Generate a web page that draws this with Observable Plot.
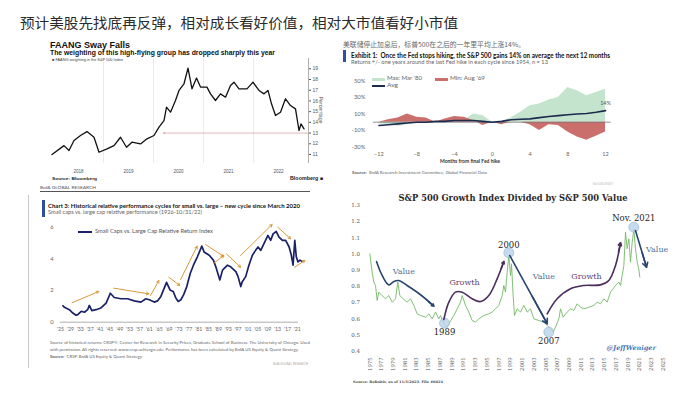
<!DOCTYPE html>
<html><head><meta charset="utf-8">
<script src="https://cdn.jsdelivr.net/npm/d3@7"></script>
<script src="https://cdn.jsdelivr.net/npm/@observablehq/plot@0.6"></script>
<style>
html,body{margin:0;padding:0;background:#fff;}
#root{position:relative;width:700px;height:394px;overflow:hidden;font-family:"Liberation Sans",Arial,sans-serif;}
.t{position:absolute;white-space:nowrap;line-height:1;transform-origin:0 0;}
.b{position:absolute;}
svg{position:absolute;}
</style></head><body><div id="root"></div>
<script>
// ================= DATA =================
// Panel 1 – FAANG weighting in the S&P 500 (%)
const faangYear = [2017.97,2018.21,2018.31,2018.41,2018.54,2018.67,2018.81,2018.91,2019.07,2019.21,2019.34,2019.46,2019.57,2019.74,2019.87,2020.01,2020.11,2020.21,2020.26,2020.34,2020.44,2020.51,2020.61,2020.69,2020.77,2020.86,2020.94,2021.07,2021.14,2021.24,2021.34,2021.44,2021.54,2021.61,2021.71,2021.87,2021.99,2022.11,2022.21,2022.29,2022.36,2022.44,2022.54,2022.64,2022.74,2022.84,2022.91,2022.95,2023.01];
const faangPct  = [11.0,11.83,11.37,12.30,12.77,13.14,12.61,11.21,11.52,11.83,12.61,11.68,12.15,11.99,12.46,12.77,13.55,14.17,15.42,14.95,16.04,16.98,17.60,19.06,17.13,18.13,17.29,17.29,16.66,16.04,16.66,16.35,17.44,17.75,17.13,17.13,17.75,16.98,16.66,16.98,15.73,14.64,14.95,16.20,15.57,15.26,13.24,13.86,13.39];
const faangTicks = [11,12,13,14,15,16,17,18,19];
const faangYearLabels = [2018,2019,2020,2021,2022];
const faangGridYears = [2019,2020,2021,2022];
const faangFloor = [{from: 2023.1, to: 2020.2, level: 13}];

// Panel 2 – S&P 500 returns around the last Fed hike (%)
const fedMonths = [-12,-11,-10,-9,-8,-7,-6,-5,-4,-3,-2,-1,0,1,2,3,4,5,6,7,8,9,10,11,12];
const fedMax = [-2,-3,-5,-3,-1,1,0,2,3,2,10,8,0,1,5,12,20,22,27,30,42,38,32,36,40];
const fedMin = [0,3,5,10,6,5,0,4,7,6,2,-4,0,-3,0,0,-3,-10,-3,-4,-12,-18,-22,-17,-12];
const fedAvg = [-4,-3,-2,-1,0,0,1,1,2,2,2,1,0,1,3,3.5,4,5.5,7,8,9,10,10.5,12,14];
const fedYTicks = [50,30,10,-10,-30];
const fedXTicks = [-12,-8,-4,0,4,8,12];

// Panel 3 – Small caps vs large caps relative return index
const smallYear = [1926.0,1926.6,1928.6,1930.0,1931.3,1932.0,1933.4,1934.7,1936.0,1936.7,1937.7,1939.4,1941.4,1943.5,1945.2,1946.8,1949.5,1952.2,1954.9,1957.6,1959.6,1961.0,1963.0,1964.4,1965.7,1968.0,1969.4,1970.7,1971.8,1972.7,1973.8,1974.9,1976.2,1977.6,1978.9,1980.5,1982.3,1983.2,1985.3,1987.0,1988.2,1989.6,1990.7,1992.7,1994.0,1996.1,1997.0,1998.1,1998.7,2000.1,2001.4,2002.8,2004.1,2005.1,2006.2,2007.5,2009.1,2010.2,2011.2,2012.5,2013.6,2015.0,2016.3,2017.7,2018.6,2019.3,2020.0,2020.6,2021.3,2022.1,2022.8];
const smallRatio = [1.04,0.94,0.79,0.58,0.44,0.48,0.69,0.63,0.79,1.06,0.73,0.79,0.90,1.21,1.83,1.56,1.48,1.48,1.35,1.27,1.48,1.42,1.27,1.35,1.63,2.52,2.04,1.94,1.52,1.31,1.42,1.73,2.25,3.08,3.60,4.13,4.81,4.44,4.23,3.92,3.40,2.67,3.29,3.60,3.50,3.19,2.88,2.25,2.56,2.88,3.60,4.23,4.54,4.75,4.54,4.96,5.48,5.17,5.58,5.73,5.38,5.17,5.17,4.75,4.23,3.60,5.17,4.13,3.81,3.92,3.85];
const smallTicksY = [0,2,4,6];
const smallTicksX = [1925,1929,1933,1937,1941,1945,1949,1953,1957,1961,1965,1969,1973,1977,1981,1985,1989,1993,1997,2001,2005,2009,2013,2017,2021];
const cycleFromYear = [1929.7,1946.6,1961.5,1968.9,1973.7,1983.8,1987.2,1992.3,1998.0,2013.1,2019.9];
const cycleFromVal  = [1.23,2.15,1.69,2.84,2.70,4.91,3.73,4.32,4.21,6.00,3.47];
const cycleToYear   = [1940.5,1960.8,1964.9,1973.4,1980.4,1991.2,1991.2,1998.0,2010.8,2018.3,2024.1];
const cycleToVal    = [1.94,1.79,2.63,2.32,4.80,4.15,4.21,3.47,6.17,5.27,3.90];

// Panel 4 – S&P 500 Growth / S&P 500 Value
const gvYear = [1975.00,1975.40,1975.68,1975.97,1976.25,1976.53,1977.10,1977.67,1978.24,1978.81,1979.38,1979.77,1980.11,1980.68,1981.36,1981.93,1982.50,1983.07,1983.64,1984.49,1985.06,1985.63,1986.19,1986.76,1987.05,1987.61,1988.18,1988.64,1989.32,1989.89,1990.45,1990.74,1991.31,1991.88,1992.44,1993.01,1993.58,1994.43,1995.28,1995.85,1996.42,1996.99,1997.56,1997.84,1998.13,1998.41,1998.69,1998.98,1999.15,1999.43,1999.66,2000.11,2000.68,2001.25,2001.82,2002.39,2002.95,2003.81,2004.66,2005.23,2005.80,2006.25,2006.65,2007.22,2007.50,2007.95,2008.64,2009.20,2009.77,2010.34,2010.91,2011.48,2012.33,2013.18,2013.75,2014.32,2014.89,2015.45,2016.02,2016.48,2016.88,2017.44,2017.73,2018.01,2018.30,2018.58,2018.86,2019.15,2019.43,2019.72,2020.00,2020.28,2020.57,2020.85,2021.02];
const gvRatio = [1.002,0.888,0.827,0.806,0.714,0.765,0.744,0.724,0.744,0.703,0.724,0.827,0.744,0.724,0.703,0.724,0.683,0.631,0.621,0.611,0.631,0.600,0.642,0.600,0.621,0.570,0.549,0.580,0.621,0.662,0.703,0.744,0.683,0.642,0.590,0.580,0.600,0.621,0.631,0.642,0.662,0.683,0.744,0.806,0.765,0.888,0.991,0.868,0.940,0.744,0.621,0.662,0.642,0.683,0.642,0.662,0.600,0.590,0.580,0.559,0.539,0.518,0.549,0.600,0.662,0.611,0.642,0.662,0.652,0.693,0.672,0.662,0.672,0.683,0.703,0.693,0.724,0.703,0.765,0.786,0.806,0.827,0.806,0.868,0.930,1.135,1.033,1.094,0.950,1.074,1.150,1.033,0.950,0.909,0.858];
const gvTicksY = [0.4,0.5,0.6,0.7,0.8,0.9,1.0,1.1,1.2,1.3];
const gvTicksX = [1975,1977,1979,1981,1983,1985,1987,1989,1991,1993,1995,1997,1999,2001,2003,2005,2007,2009,2011,2013,2015,2017,2019,2021,2023,2025];
const gvTurnYear = [1987.73,1998.69,2005.51,2020.0];
const gvTurnVal  = [0.574,1.008,0.518,1.166];
const gvTurnLabel = ["1989","2000","2007","Nov. 2021"];
const gvTurnLabelVal = [0.518,1.057,0.463,1.222];
const gvRegimeText = ["Value","Growth","Value","Growth","Value"];
const gvRegimeYear = [1980.8,1991.14,2004.66,2011.93,2023.98];
const gvRegimeVal  = [0.893,0.823,0.862,0.864,1.026];
const gvPathId   = [0,0,0,0,0,0,0,0, 1,1,1,1,1,1,1,1,1, 2,2, 3,3,3,3,3,3,3,3, 4,4];
const gvPathYear = [1976.14,1977.10,1978.24,1979.09,1979.94,1981.36,1983.64,1985.91, 1987.61,1988.47,1989.60,1990.74,1992.44,1993.86,1995.28,1996.70,1997.84, 1998.86,2005.23, 2005.23,2006.93,2009.20,2011.48,2014.32,2015.74,2016.88,2017.73, 2020.28,2022.16];
const gvPathVal  = [0.954,0.868,0.810,0.831,0.837,0.806,0.749,0.679, 0.596,0.703,0.765,0.765,0.724,0.707,0.744,0.847,0.954, 0.991,0.570, 0.631,0.724,0.786,0.806,0.810,0.837,0.930,1.070, 1.146,0.919];

// ================= HELPERS =================
const root = document.getElementById("root");
function T(text, x, y, o = {}) {
  const d = document.createElement("div");
  d.className = "t";
  if (o.html) d.innerHTML = text; else d.textContent = text;
  d.style.fontSize = (o.size || 6) + "px";
  d.style.fontWeight = o.weight || "normal";
  d.style.color = o.color || "#333";
  if (o.family) d.style.fontFamily = o.family;
  if (o.italic) d.style.fontStyle = "italic";
  d.style.left = x + "px"; d.style.top = y + "px";
  root.appendChild(d);
  const r = d.getBoundingClientRect();
  const sx = o.w ? o.w / r.width : 1;
  const tx = o.anchor === "middle" ? -r.width * sx / 2 : o.anchor === "end" ? -r.width * sx : 0;
  d.style.transform = `translate(${tx}px, ${-r.height / 2}px) scaleX(${sx})`;
  return d;
}
function B(x, y, w, h, bg) {
  const d = document.createElement("div");
  d.className = "b";
  Object.assign(d.style, {left: x + "px", top: y + "px", width: w + "px", height: h + "px", background: bg});
  root.appendChild(d);
}
function place(svg, x, y) { svg.style.left = x + "px"; svg.style.top = y + "px"; root.appendChild(svg); }
const baseStyle = {background: "transparent", overflow: "visible"};

// ================= MAIN TITLE =================
T("预计美股先找底再反弹，相对成长看好价值，相对大市值看好小市值", 20, 21.5, {size: 14, w: 438, family: "'Noto Sans CJK SC'", color: "#2a2a2a"});

// ================= PANEL 1: FAANG =================
const faang = faangYear.map((t, i) => ({t, v: faangPct[i]}));
place(Plot.plot({
  width: 290, height: 125, marginLeft: 12, marginRight: 22, marginTop: 3, marginBottom: 17,
  x: {domain: [2017.98, 2023.1]}, y: {domain: [10.16, 19.96]},
  style: {...baseStyle, fontFamily: "'Liberation Sans', Arial, sans-serif", color: "#444"},
  marks: [
    Plot.ruleX(faangGridYears, {stroke: "#e6e6e6", strokeWidth: 0.8}),
    Plot.ruleX([2023.1], {stroke: "#999", strokeWidth: 0.8}),
    Plot.arrow(faangFloor, {x1: "from", x2: "to", y1: "level", y2: "level", stroke: "#d9a3ab", strokeWidth: 0.8, headLength: 3}),
    Plot.line(faang, {x: "t", y: "v", stroke: "#111", strokeWidth: 1.3}),
    Plot.axisY(faangTicks, {anchor: "right", tickSize: 2, tickPadding: 2, fontSize: 5, label: null, color: "#555"}),
    Plot.axisX(faangYearLabels.map(y => y + 0.5), {tickSize: 0, tickPadding: 6, fontSize: 4.6, label: null, tickFormat: d => String(Math.floor(d)), color: "#555"})
  ]
}), 40, 55);
T("FAANG Sway Falls", 50, 45, {size: 9.5, weight: "bold", w: 80, color: "#111"});
T("The weighting of this high-flying group has dropped sharply this year", 50, 53, {size: 6.3, weight: "bold", w: 225, color: "#111"});
T("■ FAANG weighting in the S&amp;P 500 Index", 52, 61, {html: true, size: 3.8, w: 71, color: "#444"});
const pc = T("Percentage", 320, 110, {size: 5.3, color: "#555"});
pc.style.transformOrigin = "50% 50%";
pc.style.transform = `translate(-50%,-50%) rotate(90deg)`;
T("<b>Source:</b> <b>Bloomberg</b>", 52, 178.5, {html: true, size: 4.3, w: 45, color: "#222"});
T("Bloomberg ■", 323, 178, {size: 5, weight: "bold", w: 33, anchor: "end", color: "#222"});

// ================= PANEL 2: Fed =================
const fed = fedMonths.map((m, i) => ({m, max: fedMax[i], min: fedMin[i], avg: fedAvg[i]}));
place(Plot.plot({
  width: 290, height: 100, marginLeft: 32.8, marginRight: 19.3, marginTop: 6.3, marginBottom: 19.4,
  x: {domain: [-12.6, 12.6]}, y: {domain: [-35, 55]},
  style: {...baseStyle, fontFamily: "Lato, 'Open Sans', sans-serif", color: "#666"},
  marks: [
    Plot.areaY(fed, {x: "m", y: "max", fill: "#c5e4cd"}),
    Plot.areaY(fed, {x: "m", y: "min", fill: "#cb6f6c"}),
    Plot.ruleY([0], {stroke: "#777", strokeWidth: 0.8}),
    Plot.line(fed, {x: "m", y: "avg", stroke: "#1c2b4f", strokeWidth: 1.6}),
    Plot.text(fed.slice(-1), {x: "m", y: "avg", text: d => d.avg + "%", dy: -7, fontSize: 5.5, fill: "#555"}),
    Plot.axisY(fedYTicks, {tickSize: 0, tickPadding: 8, fontSize: 5.8, label: null, tickFormat: d => d + "%"}),
    Plot.axisX(fedXTicks, {tickSize: 0, tickPadding: 1.2, fontSize: 5.6, label: null})
  ]
}), 340, 70);
T("美联储停止加息后，标普500在之后的一年里平均上涨14%。", 343, 44, {size: 6.5, w: 182, family: "'Noto Sans CJK SC'", color: "#666"});
B(343, 50, 3, 12, "#2e4fa3");
T("Exhibit 1:&nbsp; Once the Fed stops hiking, the S&amp;P 500 gains 14% on average the next 12 months", 351, 56, {html: true, size: 6.5, weight: "bold", w: 259, family: "Lato", color: "#111"});
T("Returns +/- one years around the last Fed hike in each cycle since 1954, n = 13", 351, 63, {size: 5.3, w: 197, family: "Lato", color: "#666"});
B(372, 77.5, 13, 3.5, "#c5e4cd");
T("Max: Mar '80", 387, 79, {size: 5.5, w: 35, family: "Lato", color: "#666"});
B(435, 77.5, 13, 3.5, "#cb6f6c");
T("Min: Aug '69", 450, 79, {size: 5.5, w: 35, family: "Lato", color: "#666"});
B(372, 85, 13, 1.6, "#1c2b4f");
T("Avg", 387, 85.7, {size: 5.5, w: 11, family: "Lato", color: "#666"});
T("Months from final Fed hike", 470, 161.8, {size: 5.1, weight: "bold", w: 60, anchor: "middle", family: "Lato", color: "#333"});
T("<b>Source:</b>&nbsp; BofA Research Investment Committee, Global Financial Data", 352, 172.7, {html: true, size: 4.3, w: 135, family: "Lato", color: "#666"});
T("BofA GLOBAL RESEARCH", 593, 185, {size: 3.5, w: 20, family: "Lato", color: "#bbb"});

// ================= PANEL 3: small vs large =================
const small = smallYear.map((y, i) => ({y, v: smallRatio[i]}));
const cycles = cycleFromYear.map((y, i) => ({x1: y, y1: cycleFromVal[i], x2: cycleToYear[i], y2: cycleToVal[i]}));
place(Plot.plot({
  width: 285, height: 120, marginLeft: 30, marginRight: 13.8, marginTop: 2.4, marginBottom: 16.3,
  x: {domain: [1925, 2022.8]}, y: {domain: [0, 6.4]},
  style: {...baseStyle, fontFamily: "Lato, 'Open Sans', sans-serif", color: "#666"},
  marks: [
    Plot.ruleY([0], {x1: 1925, x2: 2021.5, stroke: "#999", strokeWidth: 0.8}),
    Plot.line(small, {x: "y", y: "v", stroke: "#1b2168", strokeWidth: 1.7}),
    Plot.arrow(cycles, {x1: "x1", y1: "y1", x2: "x2", y2: "y2", stroke: "#d99a3d", strokeWidth: 1, headLength: 4}),
    Plot.axisY(smallTicksY, {tickSize: 0, tickPadding: 7, fontSize: 5.8, label: null}),
    Plot.axisX(smallTicksX, {tickSize: 0, tickPadding: 5.5, fontSize: 5.2, label: null, tickFormat: d => "'" + String(d).slice(2)})
  ]
}), 30, 218);
T("BofA GLOBAL RESEARCH", 40, 187.7, {size: 4.5, w: 56, family: "Lato", color: "#555"});
B(40, 191, 270, 1, "#555");
B(28, 195, 1, 173, "#c8c8c8");
B(42, 200, 3, 17, "#2e4fa3");
T("Chart 3: Historical relative performance cycles for small vs. large – new cycle since March 2020", 48, 205.7, {size: 6.3, weight: "bold", w: 252, family: "Lato", color: "#111"});
T("Small caps vs. large cap relative performance (1926-10/31/22)", 48, 213, {size: 5.3, w: 154, family: "Lato", color: "#666"});
B(78, 231, 14, 1.6, "#1b2168");
T("Small Caps vs. Large Cap Relative Return Index", 95, 231.7, {size: 5.5, w: 118, family: "Lato", color: "#555"});
T("Source of historical returns: CRSP®, Center for Research in Security Prices, Graduate School of Business, The University of Chicago. Used", 50, 343.3, {size: 3.8, w: 260, family: "Lato", color: "#666"});
T("with permission. All rights reserved. www.crsp.uchicago.edu. Performance has been calculated by BofA US Equity &amp; Quant Strategy", 50, 349.7, {html: true, size: 3.8, w: 248, family: "Lato", color: "#666"});
T("<b>Source:</b>&nbsp; CRSP, BofA US Equity &amp; Quant Strategy", 50, 356.7, {html: true, size: 3.8, w: 92, family: "Lato", color: "#666"});
T("BofA GLOBAL RESEARCH", 308, 365, {size: 3.5, w: 35, anchor: "end", family: "Lato", color: "#aaa"});

// ================= PANEL 4: Growth / Value =================
const gv = gvYear.map((y, i) => ({y, v: gvRatio[i]}));
const turns = gvTurnYear.map((y, i) => ({y, v: gvTurnVal[i], label: gvTurnLabel[i], lv: gvTurnLabelVal[i]}));
const regimes = gvRegimeText.map((t, i) => ({t, y: gvRegimeYear[i], v: gvRegimeVal[i]}));
const path = gvPathId.map((id, i) => ({id, y: gvPathYear[i], v: gvPathVal[i], kind: gvRegimeText[id]}));
const heads = d3.groups(path, d => d.id).map(([id, pts]) => {
  const a = pts[pts.length - 2], b = pts[pts.length - 1];
  return {x1: a.y + (b.y - a.y) * 0.6, y1: a.v + (b.v - a.v) * 0.6, x2: b.y, y2: b.v, kind: b.kind};
});
const kindColor = k => k === "Value" ? "#28456f" : "#4b2d5e";
const serif = "'DejaVu Serif', 'Liberation Serif', serif";
place(Plot.plot({
  width: 335, height: 185, marginLeft: 26.4, marginRight: 9.4, marginTop: 5.4, marginBottom: 29,
  x: {domain: [1974.5, 2025.5]}, y: {domain: [0.38, 1.31]},
  style: {...baseStyle, fontFamily: serif, color: "#555"},
  marks: [
    Plot.line(gv, {x: "y", y: "v", stroke: "#74b866", strokeWidth: 0.9}),
    Plot.dot(turns, {x: "y", y: "v", r: 5, fill: "#b9d2ea", fillOpacity: 0.8, stroke: "#8fb1d3", strokeWidth: 0.6}),
    Plot.line(path, {x: "y", y: "v", z: "id", curve: "catmull-rom", stroke: d => kindColor(d.kind), strokeWidth: 1.6}),
    Plot.arrow(heads, {x1: "x1", y1: "y1", x2: "x2", y2: "y2", stroke: d => kindColor(d.kind), strokeWidth: 1.6, headLength: 5}),
    Plot.text(turns, {x: "y", y: "lv", text: "label", fontSize: 8.5, fill: "#222"}),
    Plot.text(regimes, {x: "y", y: "v", text: "t", fontSize: 8, fill: d => d.t === "Value" ? "#4f7396" : "#5c3d6e"}),
    Plot.text(["@JeffWeniger"], {x: 2019.55, y: 0.419, text: d => d, fontSize: 6.5, fontStyle: "italic", fontWeight: "bold", fill: "#4a78b5"}),
    Plot.axisY(gvTicksY, {tickSize: 0, tickPadding: 7, fontSize: 5.5, label: null, tickFormat: d3.format(".1f")}),
    Plot.axisX(gvTicksX, {tickSize: 0, tickPadding: 3, fontSize: 5.3, tickRotate: -90, label: null, tickFormat: d => String(d)})
  ]
}), 340, 198);
T("S&amp;P 500 Growth Index Divided by S&amp;P 500 Value", 512.5, 197.5, {html: true, size: 8.5, weight: "bold", w: 229, anchor: "middle", family: serif, color: "#2a2a2a"});
T("<b>Source: Refinitiv, as of 11/3/2023. File #6024</b>", 353, 383, {html: true, size: 3.5, w: 90, family: serif, color: "#444"});
</script></body></html>
